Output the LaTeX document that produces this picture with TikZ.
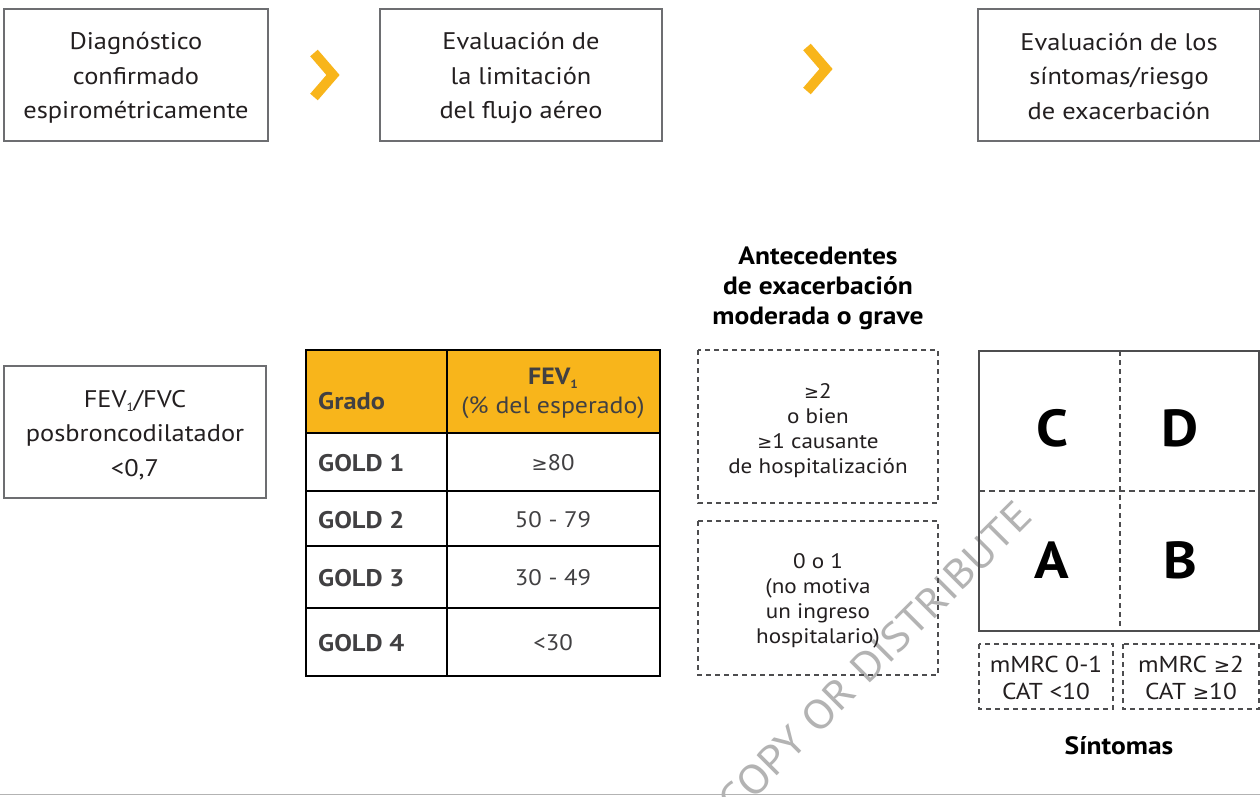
\documentclass[tikz,border=0pt]{standalone}
\usepackage{fontspec}
\setmainfont{PT Sans}[FakeStretch=1.1]
\newfontfamily\symf{DejaVu Sans}[Scale=0.85]
\definecolor{gold}{HTML}{F8B51B}
\definecolor{txt}{HTML}{231F20}
\definecolor{tbl}{HTML}{414042}
\definecolor{frame}{HTML}{6D6E71}
\definecolor{dashcol}{HTML}{4D4D4F}
\definecolor{wm}{HTML}{B3B3B3}
\newcommand{\subone}{\raisebox{-4pt}{\fontsize{12}{12}\selectfont 1}}
\newcommand{\gsym}{{\symf ≥}}
\tikzset{
  topbox/.style={draw=frame, line width=1.2pt, fill=white},
  boxtext/.style={text=txt, align=center, font=\fontsize{24}{34.5}\selectfont, inner sep=0pt},
  dbox/.style={draw=dashcol, line width=2.2pt, dash pattern=on 5pt off 4pt},
  dtext/.style={text=txt, align=center, font=\fontsize{21}{25}\selectfont, inner sep=0pt},
  gradetext/.style={text=tbl, anchor=west, font=\bfseries\fontsize{24}{26}\selectfont, inner sep=0pt},
  valtext/.style={text=tbl, font=\fontsize{22.5}{26}\selectfont, inner sep=0pt},
  letter/.style={text=black, font=\bfseries\fontsize{52}{52}\selectfont, inner sep=0pt},
  chev/.style={draw=gold, line width=10pt, line join=miter, line cap=butt},
  title/.style={text=black, align=center, font=\bfseries\fontsize{25}{30}\selectfont, inner sep=0pt}
}
\begin{document}
\begin{tikzpicture}[x=1pt,y=-1pt]
\useasboundingbox[fill=white] (0,0) rectangle (1260,796);

% watermark
\node[text=wm, rotate=45, font=\fontsize{41}{41}\selectfont, inner sep=0pt] (wmk) at (875,658) {COPY OR DISTRIBUTE};

% top row
\draw[topbox] (4,9) rectangle (268,141);
\node[boxtext] (t1) at (136,78) {Diagnóstico\\confirmado\\espirométricamente};
\draw[topbox] (380,9) rectangle (662,141);
\node[boxtext] (t2) at (521,78) {Evaluación de\\la limitación\\del flujo aéreo};
\draw[topbox] (978,9) rectangle (1259.4,141);
\node[boxtext] (t3) at (1119,76) {Evaluación de los\\síntomas/riesgo\\de exacerbación};

\draw[chev] (314,53) -- (333,75) -- (314,97);
\draw[chev] (807,47) -- (826,69) -- (807,91);

% FEV box
\draw[topbox] (4,366) rectangle (266,498);
\node[boxtext] (fev) at (135,435) {FEV\subone/FVC\\posbroncodilatador\\<0,7};

% table
\fill[gold] (306,350) rectangle (660,433);
\draw[black, line width=2.4pt] (306,350) rectangle (660,676);
\foreach \yy in {433,491,546,608} \draw[black, line width=2.2pt] (306,\yy) -- (660,\yy);
\draw[black, line width=2.2pt] (447,350) -- (447,676);
\node[gradetext] (hg) at (318,401) {Grado};
\node[valtext, align=center, font=\fontsize{23.5}{29}\selectfont] (hf) at (553,393) {\textbf{FEV\subone}\\(\% del esperado)};
\node[gradetext] (g1) at (318,463) {GOLD 1};
\node[valtext] (v1) at (553,463) {\gsym80};
\node[gradetext] (g2) at (318,520) {GOLD 2};
\node[valtext] (v2) at (553,520) {50 - 79};
\node[gradetext] (g3) at (318,578) {GOLD 3};
\node[valtext] (v3) at (553,578) {30 - 49};
\node[gradetext] (g4) at (318,643) {GOLD 4};
\node[valtext] (v4) at (553,643) {<30};

% antecedentes
\node[title] (ant) at (818,288) {Antecedentes\\de exacerbación\\moderada o grave};
\draw[dbox] (698,350) rectangle (938,503);
\node[dtext] (e1) at (818,431) {\gsym2\\o bien\\\gsym1 causante\\de hospitalización};
\draw[dbox] (698,521) rectangle (938,675);
\node[dtext] (e2) at (818,601) {0 o 1\\(no motiva\\un ingreso\\hospitalario)};

% grid
\draw[draw=dashcol, line width=1.8pt, dash pattern=on 5pt off 4pt] (1120,351) -- (1120,631);
\draw[draw=dashcol, line width=1.2pt, dash pattern=on 6pt off 4pt] (979,491) -- (1259,491);
\draw[draw=dashcol, line width=2.4pt] (979,351) rectangle (1259,631);
\node[letter] (lc) at (1052,428) {C};
\node[letter] (ld) at (1180,428) {D};
\node[letter] (la) at (1052,560) {A};
\node[letter] (lb) at (1180,560) {B};

\draw[dbox] (979,644) rectangle (1113,709);
\node[dtext, font=\fontsize{23}{27}\selectfont] (s1) at (1046,678) {mMRC 0-1\\CAT <10};
\draw[dbox] (1123,644) rectangle (1259,709);
\node[dtext, font=\fontsize{23}{27}\selectfont] (s2) at (1191,678) {mMRC \gsym2\\CAT \gsym10};
\node[text=black, font=\bfseries\fontsize{25}{26}\selectfont, inner sep=0pt] (sint) at (1119,746) {Síntomas};

% bottom line
\draw[draw=wm, line width=1.2pt] (0,794.5) -- (1260,794.5);
\end{tikzpicture}
\end{document}
